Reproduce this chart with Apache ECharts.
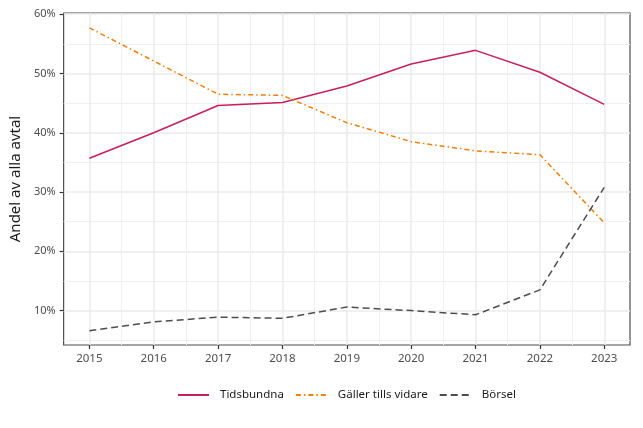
<!DOCTYPE html>
<html>
<head>
<meta charset="utf-8">
<script src="https://cdn.jsdelivr.net/npm/echarts@6/dist/echarts.min.js"></script>
<style>html,body{margin:0;padding:0;background:#fff}#c{width:643px;height:428px}</style>
</head>
<body>
<div id="c"></div>
<script>
const years = [2015, 2016, 2017, 2018, 2019, 2020, 2021, 2022, 2023];
const tidsbundna = [35.7, 40.0, 44.6, 45.1, 47.9, 51.6, 53.9, 50.2, 44.8];
const gallerTillsVidare = [57.7, 52.1, 46.5, 46.3, 41.7, 38.5, 36.95, 36.3, 24.8];
const borsel = [6.6, 8.1, 8.9, 8.7, 10.6, 10.0, 9.3, 13.5, 30.8];
const seriesNames = ['Tidsbundna', 'Gäller tills vidare', 'Börsel'];
const yTicks = [10, 20, 30, 40, 50, 60];
const yTitle = 'Andel av alla avtal';

const xMinor = years.slice(0, -1).map(y => y + 0.5);
const yMinor = yTicks.map(t => t - 5);
const FONT = 'Noto Sans';

function pairs(vals) { return years.map((y, i) => [y, vals[i]]); }

const chart = echarts.init(document.getElementById('c'), null, {renderer: 'canvas'});
const xBase = {type: 'value', min: 2014.6, max: 2023.4};
const yBase = {type: 'value', min: 4.2, max: 60.2};
chart.setOption({
  animation: false,
  textStyle: {fontFamily: FONT},
  grid: {left: 63, right: 13, top: 13, bottom: 83, show: true, borderColor: '#4d4d4d', borderWidth: 1.2, backgroundColor: 'transparent'},
  xAxis: [
    Object.assign({}, xBase, {
      axisLine: {show: false},
      axisTick: {show: true, length: 4, lineStyle: {color: '#333', width: 1.2}, customValues: years},
      axisLabel: {show: true, customValues: years, color: '#4d4d4d', fontSize: 11.5, fontFamily: FONT, margin: 8, formatter: v => String(v)},
      splitLine: {show: true, lineStyle: {color: '#ebebeb', width: 1.5}}
    }),
    Object.assign({}, xBase, {
      position: 'bottom',
      axisLine: {show: false},
      axisTick: {show: false, customValues: xMinor},
      axisLabel: {show: false, customValues: xMinor},
      splitLine: {show: true, lineStyle: {color: '#f0f0f0', width: 1}}
    })
  ],
  yAxis: [
    Object.assign({}, yBase, {
      name: yTitle, nameLocation: 'middle', nameRotate: 90, nameGap: 34,
      nameTextStyle: {fontSize: 15, color: '#1a1a1a', fontFamily: FONT},
      axisLine: {show: false},
      axisTick: {show: true, length: 4, lineStyle: {color: '#333', width: 1.2}, customValues: yTicks},
      axisLabel: {show: true, customValues: yTicks, color: '#4d4d4d', fontSize: 11, fontFamily: FONT, margin: 8, formatter: v => v + '%'},
      splitLine: {show: true, lineStyle: {color: '#ebebeb', width: 1.5}}
    }),
    Object.assign({}, yBase, {
      position: 'left',
      axisLine: {show: false},
      axisTick: {show: false, customValues: yMinor},
      axisLabel: {show: false, customValues: yMinor},
      splitLine: {show: true, lineStyle: {color: '#f0f0f0', width: 1}}
    })
  ],
  legend: {
    data: seriesNames,
    left: 177, top: 389, padding: 0,
    itemWidth: 31, itemHeight: 14, itemGap: 11,
    itemStyle: {opacity: 0},
    lineStyle: {opacity: 1},
    textStyle: {fontSize: 11.5, color: '#1a1a1a', fontFamily: FONT, padding: [0, 0, 0, 6]}
  },
  series: [
    {name: seriesNames[0], type: 'line', data: pairs(tidsbundna), symbol: 'none', xAxisIndex: 0, yAxisIndex: 0,
     lineStyle: {color: '#C51F5D', width: 1.5, type: 'solid'}, itemStyle: {color: '#C51F5D'}},
    {name: seriesNames[1], type: 'line', data: pairs(gallerTillsVidare), symbol: 'none', xAxisIndex: 0, yAxisIndex: 0,
     lineStyle: {color: '#F07F0A', width: 1.5, type: [5, 3, 1.5, 3]}, itemStyle: {color: '#F07F0A'}},
    {name: seriesNames[2], type: 'line', data: pairs(borsel), symbol: 'none', xAxisIndex: 0, yAxisIndex: 0,
     lineStyle: {color: '#4d4d4d', width: 1.5, type: [7, 4]}, itemStyle: {color: '#4d4d4d'}}
  ]
});
</script>
</body>
</html>
